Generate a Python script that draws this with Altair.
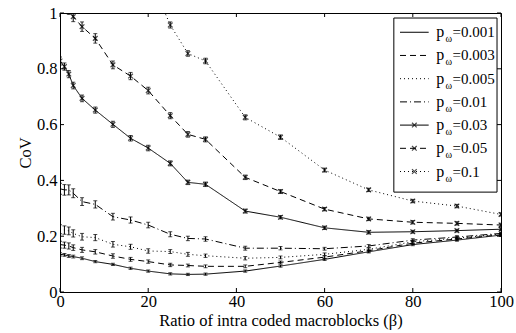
import altair as alt
import pandas as pd

# Ratio of intra coded macroblocks (beta) at which each CoV value was measured
beta = [0, 1, 2, 3, 5, 8, 12, 16, 20, 25, 29, 33, 42, 50, 60, 70, 80, 90, 100]

# Mean CoV per packet loss rate p_omega, with half-width of the error bars
cov_0001 = [0.135, 0.133, 0.129, 0.127, 0.121, 0.109, 0.099, 0.085, 0.075, 0.065,
            0.063, 0.064, 0.075, 0.093, 0.117, 0.144, 0.170, 0.186, 0.204]
err_0001 = [0.006, 0.005, 0.005, 0.005, 0.005, 0.004, 0.004, 0.004, 0.004, 0.004,
            0.004, 0.004, 0.004, 0.004, 0.004, 0.004, 0.004, 0.004, 0.004]

cov_0003 = [0.170, 0.168, 0.165, 0.159, 0.151, 0.144, 0.129, 0.117, 0.109, 0.097,
            0.095, 0.092, 0.092, 0.106, 0.125, 0.148, 0.175, 0.190, 0.205]
err_0003 = [0.012, 0.011, 0.011, 0.010, 0.009, 0.008, 0.008, 0.007, 0.006, 0.006,
            0.005, 0.005, 0.005, 0.005, 0.005, 0.005, 0.005, 0.005, 0.005]

cov_0005 = [0.225, 0.222, 0.219, 0.210, 0.198, 0.195, 0.171, 0.162, 0.147, 0.145,
            0.135, 0.130, 0.121, 0.124, 0.135, 0.153, 0.180, 0.193, 0.208]
err_0005 = [0.016, 0.015, 0.014, 0.013, 0.012, 0.011, 0.010, 0.009, 0.008, 0.007,
            0.007, 0.006, 0.006, 0.005, 0.005, 0.005, 0.005, 0.005, 0.005]

cov_001 = [0.370, 0.366, 0.366, 0.354, 0.324, 0.314, 0.270, 0.258, 0.240, 0.207,
           0.192, 0.190, 0.157, 0.157, 0.155, 0.165, 0.186, 0.197, 0.210]
err_001 = [0.020, 0.019, 0.018, 0.016, 0.014, 0.013, 0.012, 0.011, 0.010, 0.009,
           0.008, 0.008, 0.007, 0.006, 0.005, 0.005, 0.005, 0.005, 0.005]

cov_003 = [0.828, 0.808, 0.781, 0.740, 0.694, 0.652, 0.601, 0.551, 0.516, 0.461,
           0.393, 0.386, 0.290, 0.268, 0.230, 0.214, 0.216, 0.220, 0.225]
err_003 = [0.014, 0.013, 0.013, 0.012, 0.012, 0.011, 0.011, 0.010, 0.010, 0.009,
           0.008, 0.008, 0.007, 0.006, 0.006, 0.006, 0.005, 0.005, 0.005]

cov_005 = [1.050, 1.035, 1.015, 0.987, 0.951, 0.909, 0.814, 0.774, 0.722, 0.632,
           0.565, 0.547, 0.411, 0.360, 0.297, 0.262, 0.250, 0.246, 0.240]
err_005 = [0.020, 0.020, 0.020, 0.018, 0.017, 0.017, 0.014, 0.013, 0.012, 0.011,
           0.010, 0.009, 0.008, 0.007, 0.006, 0.006, 0.006, 0.006, 0.006]

# p_omega = 0.1 stays above 1 for small beta
beta_01 = [20, 25, 29, 33, 42, 50, 60, 70, 80, 90, 100]
cov_01 = [1.140, 0.957, 0.855, 0.828, 0.626, 0.555, 0.437, 0.366, 0.326, 0.308, 0.278]
err_01 = [0.012, 0.011, 0.010, 0.010, 0.009, 0.008, 0.007, 0.006, 0.006, 0.006, 0.006]

series_names = ["0.001", "0.003", "0.005", "0.01", "0.03", "0.05", "0.1"]
marked = ["0.03", "0.05", "0.1"]
dashes = [[1, 0], [6, 4], [1, 3], [7, 3, 1, 3], [1, 0], [6, 4], [1, 3]]

x_ticks = [0, 20, 40, 60, 80, 100]
y_ticks = [0, 0.2, 0.4, 0.6, 0.8, 1]

SERIF = "Liberation Serif"
AXIS_FS = 16.5
LEG_FS = 15

rows = []
for name, xs, ys, es in [
    ("0.001", beta, cov_0001, err_0001),
    ("0.003", beta, cov_0003, err_0003),
    ("0.005", beta, cov_0005, err_0005),
    ("0.01", beta, cov_001, err_001),
    ("0.03", beta, cov_003, err_003),
    ("0.05", beta, cov_005, err_005),
    ("0.1", beta_01, cov_01, err_01),
]:
    for xv, yv, ev in zip(xs, ys, es):
        rows.append({"series": name, "beta": xv, "cov": yv,
                     "lo": yv - ev, "hi": yv + ev})
df = pd.DataFrame(rows)

xs = alt.Scale(domain=[0, 100], nice=False, zero=False)
ys = alt.Scale(domain=[0, 1], nice=False, zero=False)
dash_scale = alt.Scale(domain=series_names, range=dashes)

x_enc = alt.X("beta:Q", scale=xs,
              axis=alt.Axis(values=x_ticks, title="Ratio of intra coded macroblocks (β)",
                            labelFlush=False, labelOverlap=False, labelPadding=1,
                            titlePadding=3))
y_enc = alt.Y("cov:Q", scale=ys,
              axis=alt.Axis(values=y_ticks, format="~g", title="CoV",
                            labelOverlap=False, labelPadding=3, titlePadding=3))

base = alt.Chart(df)

lines = base.mark_line(color="black", strokeWidth=1, clip=True).encode(
    x=x_enc, y=y_enc,
    strokeDash=alt.StrokeDash("series:N", scale=dash_scale, legend=None),
    detail="series:N",
    order="beta:Q",
)

bars = base.mark_rule(color="black", strokeWidth=1, clip=True).encode(
    x=alt.X("beta:Q", scale=xs), y=alt.Y("lo:Q", scale=ys), y2="hi:Q")
cap_lo = base.mark_tick(color="black", orient="horizontal", size=4, thickness=1,
                        clip=True).encode(x=alt.X("beta:Q", scale=xs), y=alt.Y("lo:Q", scale=ys))
cap_hi = base.mark_tick(color="black", orient="horizontal", size=4, thickness=1,
                        clip=True).encode(x=alt.X("beta:Q", scale=xs), y=alt.Y("hi:Q", scale=ys))

X_SHAPE = "M-1,-1L1,1M1,-1L-1,1"
markers = base.transform_filter(
    alt.FieldOneOfPredicate(field="series", oneOf=marked)
).mark_point(shape=X_SHAPE, size=22, color="black", filled=False,
             strokeWidth=1.2, clip=True).encode(
    x=alt.X("beta:Q", scale=xs), y=alt.Y("cov:Q", scale=ys))

# Inward ticks on all four sides of the frame
tick_len_x = 4 / 279
tick_len_y = 4 / 4.41
xt = pd.DataFrame({"t": x_ticks})
yt = pd.DataFrame({"t": y_ticks})
tick_style = dict(color="black", strokeWidth=1)
xt_bottom = alt.Chart(xt).mark_rule(**tick_style).encode(
    x=alt.X("t:Q", scale=xs), y=alt.datum(0, scale=ys), y2=alt.datum(tick_len_x))
xt_top = alt.Chart(xt).mark_rule(**tick_style).encode(
    x=alt.X("t:Q", scale=xs), y=alt.datum(1, scale=ys), y2=alt.datum(1 - tick_len_x))
yt_left = alt.Chart(yt).mark_rule(**tick_style).encode(
    y=alt.Y("t:Q", scale=ys), x=alt.datum(0, scale=xs), x2=alt.datum(tick_len_y))
yt_right = alt.Chart(yt).mark_rule(**tick_style).encode(
    y=alt.Y("t:Q", scale=ys), x=alt.datum(100, scale=xs), x2=alt.datum(100 - tick_len_y))

# Legend drawn in data coordinates inside the plot area
leg_x0, leg_x1 = 75.7, 99.1
leg_y0, leg_y1 = 0.358, 0.982
leg_top, leg_step = 0.931, 0.0832
leg_rows = []
for i, name in enumerate(series_names):
    yv = leg_top - i * leg_step
    leg_rows.append({"series": name, "label": "=" + name, "y": yv,
                     "xa": 77.1, "xb": 83.6, "xm": 80.35})
leg = pd.DataFrame(leg_rows)

leg_box = alt.Chart(pd.DataFrame({"a": [leg_x0], "b": [leg_x1],
                                  "c": [leg_y0], "d": [leg_y1]})).mark_rect(
    fill="white", stroke="black", strokeWidth=1).encode(
    x=alt.X("a:Q", scale=xs), x2="b:Q", y=alt.Y("c:Q", scale=ys), y2="d:Q")
leg_lines = alt.Chart(leg).mark_rule(color="black", strokeWidth=1).encode(
    x=alt.X("xa:Q", scale=xs), x2="xb:Q", y=alt.Y("y:Q", scale=ys),
    strokeDash=alt.StrokeDash("series:N", scale=dash_scale, legend=None))
leg_marks = alt.Chart(leg).transform_filter(
    alt.FieldOneOfPredicate(field="series", oneOf=marked)
).mark_point(shape=X_SHAPE, size=22, color="black", filled=False, strokeWidth=1.2).encode(
    x=alt.X("xm:Q", scale=xs), y=alt.Y("y:Q", scale=ys))
leg_p = alt.Chart(leg).mark_text(text="p", font=SERIF, fontSize=LEG_FS + 1, align="left",
                                 baseline="middle", color="black").encode(
    x=alt.datum(85.3, scale=xs), y=alt.Y("y:Q", scale=ys))
leg_w = alt.Chart(leg).mark_text(text="ω", font=SERIF, fontSize=10, align="left",
                                 baseline="middle", color="black", dy=7).encode(
    x=alt.datum(87.4, scale=xs), y=alt.Y("y:Q", scale=ys))
leg_t = alt.Chart(leg).mark_text(font=SERIF, fontSize=LEG_FS, align="left",
                                 baseline="middle", color="black").encode(
    x=alt.datum(89.0, scale=xs), y=alt.Y("y:Q", scale=ys), text="label:N")

chart = alt.layer(
    lines, bars, cap_lo, cap_hi, markers,
    xt_bottom, xt_top, yt_left, yt_right,
    leg_box, leg_lines, leg_marks, leg_p, leg_w, leg_t,
).properties(
    width=441, height=279,
    autosize=alt.AutoSizeParams(type="none"),
    padding={"left": 60, "top": 13, "right": 15, "bottom": 41},
    background="white",
).configure_view(
    stroke="black", strokeWidth=1,
).configure_axis(
    labelFont=SERIF, labelFontSize=AXIS_FS, labelColor="black",
    titleFont=SERIF, titleFontSize=AXIS_FS, titleFontWeight="normal", titleColor="black",
    ticks=False, grid=False, domainColor="black", domainWidth=1,
)

chart.save("out.html", embed_options={"renderer": "svg", "actions": False})
